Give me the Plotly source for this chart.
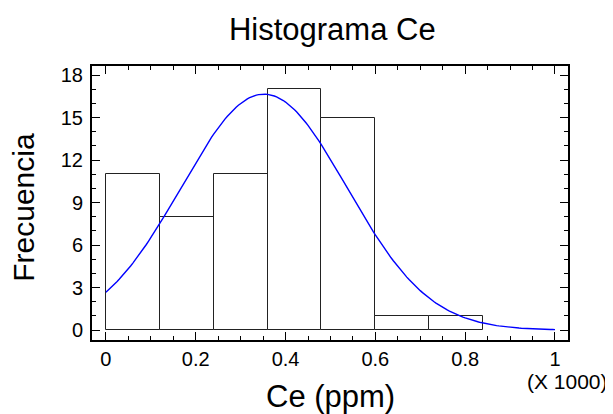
import plotly.graph_objects as go
import numpy as np

# Histogram bins (Ce in thousands of ppm)
bin_left = [0.0, 0.12, 0.24, 0.36, 0.48, 0.60, 0.72]
bin_width = 0.12
counts = [11, 8, 11, 17, 15, 1, 1]

# Fitted normal parameters
fit_mean = 0.352
fit_sd = 0.184

x_ticks = [0, 0.2, 0.4, 0.6, 0.8, 1.0]
x_tick_labels = ["0", "0.2", "0.4", "0.6", "0.8", "1"]
y_ticks = [0, 3, 6, 9, 12, 15, 18]

centers = [b + bin_width / 2 for b in bin_left]
n_total = sum(counts)
xs = np.linspace(0, 1, 201)
ys = n_total * bin_width / (fit_sd * np.sqrt(2 * np.pi)) * np.exp(-(xs - fit_mean) ** 2 / (2 * fit_sd ** 2))

FONT = 'Liberation Sans, Arial'

fig = go.Figure()
fig.add_trace(go.Bar(
    x=centers, y=counts, width=bin_width,
    marker=dict(color='white', line=dict(color='#222222', width=1)),
    showlegend=False
))
fig.add_trace(go.Scatter(
    x=xs, y=ys, mode='lines',
    line=dict(color='#0000ff', width=1.4),
    showlegend=False
))

axis_common = dict(
    showline=True, linecolor='black', linewidth=2, mirror='ticks',
    ticks='inside', ticklen=8, tickwidth=1, tickcolor='black',
    showgrid=False, zeroline=False, automargin=False,
    tickfont=dict(family=FONT, size=20, color='black'),
)

# page has an 8px body margin, so the figure is 8px smaller
fig.update_layout(
    width=605, height=406,
    margin=dict(l=84, r=45, t=58, b=74),
    paper_bgcolor='white', plot_bgcolor='white',
    font=dict(family=FONT, color='black'),
    title=dict(text='Histograma Ce', x=0.536, xanchor='center', y=0.948, yanchor='middle',
               font=dict(size=31)),
    bargap=0,
    xaxis=dict(axis_common, range=[-0.031, 1.029], tickvals=x_ticks, ticktext=x_tick_labels,
               minor=dict(dtick=0.05, ticks='inside', ticklen=4, tickcolor='black')),
    yaxis=dict(axis_common, range=[-0.7, 18.64], tickvals=y_ticks,
               minor=dict(dtick=1, ticks='inside', ticklen=4, tickcolor='black'),
               ticklabelstandoff=3),
)

fig.add_annotation(
    text='Ce (ppm)', xref='paper', yref='paper', x=0.5, y=-0.205,
    xanchor='center', yanchor='middle', showarrow=False,
    font=dict(size=31, color='black')
)
fig.add_annotation(
    text='Frecuencia', xref='paper', yref='paper', x=-0.143, y=0.486, textangle=-90,
    xanchor='center', yanchor='middle', showarrow=False,
    font=dict(size=30, color='black')
)
fig.add_annotation(
    text='(X 1000)', xref='paper', yref='paper', x=0.998, y=-0.15,
    xanchor='center', yanchor='middle', showarrow=False,
    font=dict(size=21, color='black')
)

fig.write_html("out.html")
